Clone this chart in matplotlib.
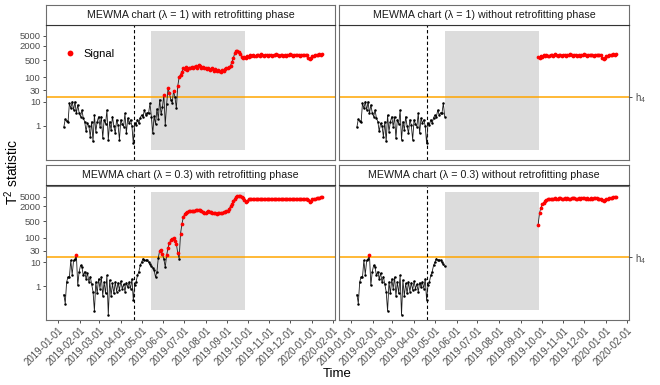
import numpy as np
import pandas as pd
import matplotlib
matplotlib.use("Agg")
import matplotlib.pyplot as plt
import matplotlib.dates as mdates
from matplotlib.patches import Rectangle
from matplotlib.lines import Line2D
from matplotlib.ticker import NullLocator, FixedLocator, FixedFormatter

plt.rcParams["font.family"] = ["Liberation Sans", "DejaVu Sans"]
plt.rcParams["mathtext.fontset"] = "custom"
plt.rcParams["mathtext.rm"] = "Liberation Sans"
plt.rcParams["mathtext.it"] = "Liberation Sans:italic"

# ---- data (one value every 2 days from 2019-01-09) ----
start_date = "2019-01-09"
h4 = 16
phase_end = "2019-04-20"          # dashed line
retro_start = "2019-05-15"        # grey band
retro_end = "2019-09-27"
band_low, band_high = 0.1, 8000

lam1_phase1 = [0.9, 1.9, 1.6, 1.4, 8.6, 5.3, 10, 4.5, 10, 3.3,
               7.3, 3.5, 2.4, 4.5, 2.1, 1.5, 0.6, 1.3, 1.0, 0.36,
               1.5, 0.23, 2.8, 0.58, 1.5, 2.4, 0.94, 2.4, 0.31, 1.8,
               1.2, 4.5, 0.27, 1.5, 0.68, 2.4, 1.0, 0.5, 1.8, 1.1,
               0.27, 1.8, 1.2, 0.94, 3.3, 0.5, 2.1, 1.3, 1.8, 1.0,
               0.19, 1.3, 1.1, 1.8, 1.3, 2.2, 2.8, 2.4, 4.5, 2.8,
               3.5, 3.3, 8.6, 2.4]
lam1_retro = [0.5, 2.5, 1.2, 5, 2, 12, 3, 6, 19, 1.1, 8, 35, 22, 12, 9, 28,
              15, 5.3, 44, 100, 130, 170, 240,
              220, 260, 200, 250, 230, 270, 240, 260, 280, 250, 320, 290,
              250, 270, 230, 250, 210, 240, 200, 220, 230, 190, 210, 180,
              200, 190, 170, 200, 180, 210, 230, 240,
              260, 300, 440, 600, 980, 1150, 1200, 1050, 900, 700, 620]
lam1_post = [700, 620, 780, 700, 820, 760, 850, 780, 720, 860,
             800, 750, 880, 820, 760, 840, 800, 730, 860, 810,
             760, 830, 790, 870, 820, 760, 800, 850, 780, 820,
             760, 840, 800, 870, 810, 760, 830, 790, 850, 800,
             780, 840, 810, 860, 800, 820, 600, 560, 650, 720,
             780, 820, 860, 840, 880, 860, 900]

lam03_phase1 = [0.45, 0.19, 1.5, 2.4, 2.4, 11.7, 3, 11.7, 13, 20,
                1.1, 3.9, 7.3, 6.2, 2.8, 4, 2, 3.5, 1.5, 2.5,
                1.2, 0.6, 0.094, 1.5, 0.5, 2, 0.8, 2.4, 0.4, 1.5,
                0.5, 2.8, 0.064, 1.8, 0.4, 1.3, 0.5, 1.5, 0.6, 1.4,
                0.7, 1.6, 0.8, 1.2, 0.6, 1.4, 0.9, 1.5, 0.8, 2,
                0.27, 1.1, 1.5, 2.8, 4, 7.3, 10, 13.8, 12, 11.7,
                12, 10, 8, 6.6]
lam03_retro = [5.9, 4.5, 2.4, 3.9, 15, 30, 32, 21, 13, 6.2, 19, 40, 60, 80,
               92, 95, 78, 57, 23, 14, 150, 380, 710, 980, 1100, 1200, 1250,
               1300, 1350, 1300, 1350, 1400, 1400, 1450, 1400, 1300, 1150,
               1050, 1100, 1200, 1250, 1200, 1150, 1100, 1050, 1050, 1000,
               1050, 1100, 1100, 1100, 1150, 1200, 1250, 1350,
               1600, 2000, 2600, 3300, 4200, 5000, 5400, 5600, 5500, 5000, 4300]
lam03_post = [3600, 3200, 3500, 3900, 4100, 4000, 4100, 4200, 4100, 4150,
              4200, 4100, 4200, 4150, 4100, 4200, 4250, 4150, 4100, 4200,
              4150, 4200, 4100, 4150, 4200, 4250, 4200, 4150, 4100, 4200,
              4150, 4200, 4250, 4200, 4150, 4200, 4100, 4150, 4200, 4150,
              4200, 4250, 4200, 4150, 4100, 3900, 3600, 3200, 3500, 3900,
              4000, 4200, 4300, 4500, 4700, 4800, 5000]
lam03_post_noretro = [345, 1070, 1800, 2500, 2900, 3300, 3600, 3900, 4100, 4200,
                      4250, 4200, 4300, 4250, 4200, 4300, 4350, 4250, 4200, 4300,
                      4250, 4300, 4200, 4250, 4300, 4350, 4300, 4250, 4200, 4300,
                      4250, 4300, 4350, 4300, 4250, 4300, 4200, 4250, 4300, 4250,
                      4300, 4350, 4300, 4250, 4200, 4000, 3700, 3300, 3600, 4000,
                      4100, 4300, 4400, 4600, 4800, 4900, 5000]

y_ticks = [1, 10, 30, 100, 500, 2000, 5000]
titles = ["MEWMA chart (\u03bb = 1) with retrofitting phase",
          "MEWMA chart (\u03bb = 1) without retrofitting phase",
          "MEWMA chart (\u03bb = 0.3) with retrofitting phase",
          "MEWMA chart (\u03bb = 0.3) without retrofitting phase"]

n1, n2 = len(lam1_phase1), len(lam1_retro)
dates = pd.date_range(start_date, periods=n1 + n2 + len(lam1_post), freq="2D")
d_p1, d_retro, d_post = dates[:n1], dates[n1:n1 + n2], dates[n1 + n2:]

# each panel: list of segments (dates, values)
panel_data = [
    [(dates, lam1_phase1 + lam1_retro + lam1_post)],
    [(d_p1, lam1_phase1), (d_post, lam1_post)],
    [(dates, lam03_phase1 + lam03_retro + lam03_post)],
    [(d_p1, lam03_phase1), (d_post, lam03_post_noretro)],
]

W, H = 660, 385
fig = plt.figure(figsize=(W / 100, H / 100), dpi=100)

def box(x, y, w, h):
    return [x / W, 1 - (y + h) / H, w / W, h / H]

cols = [(46, 289), (339, 290)]
rows = [(25, 135, 5), (186, 134, 165)]
border = "#6e6e6e"
tick_col = "#4d4d4d"

xmin = mdates.date2num(pd.Timestamp("2019-01-01")) - 17.7
xmax = mdates.date2num(pd.Timestamp("2020-02-01")) + 2.4
month_ticks = pd.date_range("2019-01-01", "2020-02-01", freq="MS")

for k in range(4):
    r, c = divmod(k, 2)
    py, ph, sy = rows[r]
    px, pw = cols[c]
    ax = fig.add_axes(box(px, py, pw, ph))
    sax = fig.add_axes(box(px, sy, pw, 20))

    # strip
    sax.set_xticks([]); sax.set_yticks([])
    for s in sax.spines.values():
        s.set_color(border); s.set_linewidth(0.8)
    sax.spines["bottom"].set_color("#333333")
    sax.text(0.5, 0.5, titles[k], ha="center", va="center", fontsize=7.7,
             color="#1a1a1a", transform=sax.transAxes)

    ax.set_yscale("log")
    ax.set_ylim(10 ** -1.40, 10 ** 4.15)
    ax.set_xlim(xmin, xmax)

    rs = mdates.date2num(pd.Timestamp(retro_start))
    re_ = mdates.date2num(pd.Timestamp(retro_end))
    ax.add_patch(Rectangle((rs, band_low), re_ - rs, band_high - band_low,
                           facecolor="#dcdcdc", edgecolor="none", zorder=0))
    ax.axhline(h4, color="#FFA500", lw=1.1, zorder=1)
    ax.axvline(mdates.date2num(pd.Timestamp(phase_end)), color="black",
               lw=0.8, ls=(0, (3, 2.2)), zorder=1)

    for d, v in panel_data[k]:
        v = np.array(v, dtype=float)
        x = mdates.date2num(d)
        ax.plot(x, v, color="#1a1a1a", lw=0.6, zorder=2)
        sig = v > h4
        ax.plot(x[~sig], v[~sig], "o", color="black", ms=1.8, mew=0, zorder=3)
        ax.plot(x[sig], v[sig], "o", color="#FF0000", ms=2.7, mew=0, zorder=4)

    for s in ax.spines.values():
        s.set_color(border); s.set_linewidth(0.8)
    ax.yaxis.set_minor_locator(NullLocator())
    ax.tick_params(length=2.5, width=0.6, color="#333333", labelsize=6.8,
                   labelcolor=tick_col, pad=1.5)
    if c == 0:
        ax.set_yticks(y_ticks)
        ax.set_yticklabels([str(t) for t in y_ticks])
    else:
        ax.set_yticks([])
        ax2 = ax.twinx()
        ax2.set_yscale("log")
        ax2.set_ylim(ax.get_ylim())
        ax2.yaxis.set_minor_locator(NullLocator())
        ax2.yaxis.set_major_locator(FixedLocator([h4]))
        ax2.yaxis.set_major_formatter(FixedFormatter([r"$\mathregular{h_4}$"]))
        ax2.tick_params(length=2.5, width=0.6, color="#333333", labelsize=7,
                        labelcolor=tick_col, pad=1.5)
        for s in ax2.spines.values():
            s.set_visible(False)
    if r == 1:
        ax.set_xticks(mdates.date2num(month_ticks))
        ax.set_xticklabels([d.strftime("%Y-%m-%d") for d in month_ticks],
                           rotation=45, ha="right", rotation_mode="anchor",
                           fontsize=7.0)
    else:
        ax.set_xticks([])
    if k == 0:
        h = Line2D([], [], marker="o", ls="none", color="#FF0000", ms=4.2, mew=0)
        ax.legend([h], ["Signal"], loc="center left", bbox_to_anchor=(0.05, 0.785),
                  frameon=False, fontsize=8, handletextpad=0.7,
                  borderaxespad=0, handlelength=1.0)

fig.text(337 / W, 1 - 374 / H, "Time", ha="center", va="center", fontsize=9.5)
fig.text(12 / W, 1 - 172 / H, r"$\mathregular{T^2}$ statistic", ha="center",
         va="center", rotation=90, fontsize=10)

fig.savefig("out.png", dpi=100)
